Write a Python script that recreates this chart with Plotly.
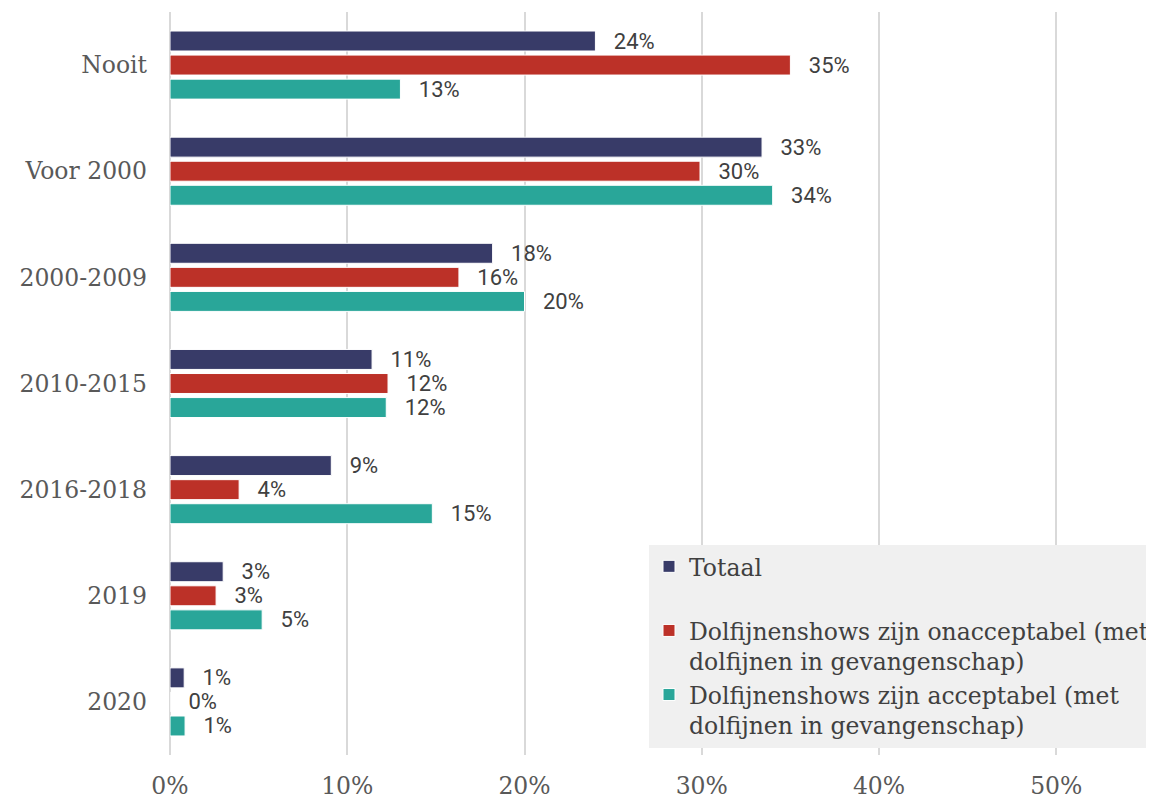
import plotly.graph_objects as go

categories = ["Nooit", "Voor 2000", "2000-2009", "2010-2015", "2016-2018", "2019", "2020"]
totaal = [0.240, 0.334, 0.182, 0.114, 0.091, 0.030, 0.008]
onacceptabel = [0.350, 0.299, 0.163, 0.123, 0.039, 0.026, 0.000]
acceptabel = [0.130, 0.340, 0.200, 0.122, 0.148, 0.052, 0.0085]
x_ticks = [0, 0.1, 0.2, 0.3, 0.4, 0.5]

series = [
    ("Totaal<br> ", totaal, "#383b68"),
    ("Dolfijnenshows zijn onacceptabel (met<br>dolfijnen in gevangenschap)", onacceptabel, "#bc3128"),
    ("Dolfijnenshows zijn acceptabel (met<br>dolfijnen in gevangenschap)", acceptabel, "#29a699"),
]

fig = go.Figure()
for name, vals, color in series:
    fig.add_trace(go.Bar(
        y=categories, x=vals, name=name, orientation="h",
        marker=dict(color=color, line=dict(color="white", width=1)),
        texttemplate="  \u2009%{x:.0%}", textposition="outside", cliponaxis=False,
        constraintext="none",
        textfont=dict(family="Roboto", size=22, color="#404040"),
    ))

fig.update_layout(
    width=1146, height=792,
    margin=dict(l=162, r=0, t=4, b=43),
    barmode="group", bargap=0.32, bargroupgap=0.17,
    plot_bgcolor="white", paper_bgcolor="white",
    font=dict(family="DejaVu Serif", size=23.5, color="#595959"),
    showlegend=True,
    legend=dict(
        x=0.488, y=0.010, xanchor="left", yanchor="bottom",
        bgcolor="#f0f0f0", valign="top",
        font=dict(family="DejaVu Serif", size=23.5, color="#404040"),
        itemclick=False,
    ),
    xaxis=dict(
        range=[0, 0.554], tickvals=x_ticks, tickformat=".0%",
        showgrid=True, gridcolor="#d9d9d9", gridwidth=2,
        zeroline=True, zerolinecolor="#d9d9d9", zerolinewidth=2,
        showline=False, ticks="", ticklabelstandoff=14,
        tickfont=dict(family="DejaVu Serif", size=23.5, color="#595959"),
    ),
    yaxis=dict(
        autorange="reversed", showgrid=False, showline=False, ticks="",
        ticklabelstandoff=22,
        tickfont=dict(family="DejaVu Serif", size=23.5, color="#595959"),
    ),
)

fig.write_html("out.html")
